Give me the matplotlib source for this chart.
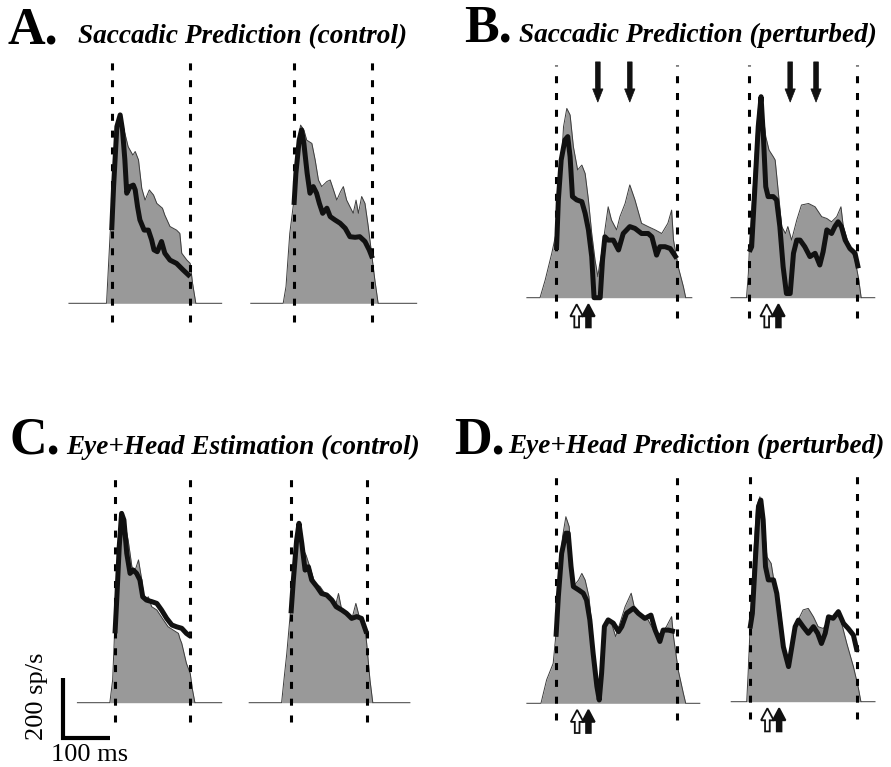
import matplotlib
matplotlib.use('Agg')
import matplotlib.pyplot as plt
from matplotlib.patches import FancyArrow

plt.rcParams.update({'font.family': ['Liberation Serif', 'DejaVu Serif']})

# ---- data: time (ms, 0 = saccade onset) and firing rate (sp/s) ----
# gray = recorded firing rate, black = model fit
a_left_gray_t = [-91, -11, -4, 4, 11, 18, 28, 35, 45, 50, 57, 64, 71, 80, 89, 96, 108, 113, 124, 138, 145, 149, 160, 167, 172, 179, 234]
a_left_gray_r = [0, 0, 211, 456, 589, 628, 567, 522, 494, 506, 478, 383, 344, 378, 361, 333, 317, 294, 256, 244, 233, 167, 144, 133, 67, 0, 0]
a_left_fit_t = [0, 4, 11, 18, 23, 28, 32, 39, 46, 50, 55, 60, 69, 78, 85, 90, 97, 106, 113, 124, 138, 152, 167]
a_left_fit_r = [244, 389, 589, 628, 578, 478, 367, 389, 394, 378, 322, 278, 244, 244, 211, 178, 172, 206, 167, 144, 133, 111, 89]

a_right_gray_t = [-92, -23, -17, -9, -1, 6, 14, 21, 27, 38, 45, 52, 59, 70, 77, 84, 91, 99, 105, 112, 119, 126, 132, 137, 144, 151, 158, 165, 172, 179, 261]
a_right_gray_r = [0, 0, 56, 233, 333, 511, 594, 578, 544, 533, 478, 411, 389, 406, 411, 378, 344, 372, 389, 344, 322, 300, 344, 300, 356, 333, 256, 167, 78, 0, 0]
a_right_fit_t = [0, 4, 11, 16, 21, 28, 34, 41, 48, 54, 61, 70, 77, 87, 98, 109, 119, 130, 140, 151, 160, 167]
a_right_fit_r = [328, 433, 544, 578, 533, 433, 367, 389, 367, 333, 300, 317, 289, 278, 267, 250, 222, 220, 222, 206, 178, 150]

b_left_gray_t = [-62, -34, -23, -9, 0, 9, 16, 23, 30, 37, 46, 55, 62, 69, 76, 83, 89, 92, 97, 103, 111, 118, 129, 136, 147, 157, 168, 182, 196, 211, 225, 238, 246, 250, 260, 271, 276, 289]
b_left_gray_r = [0, 0, 59, 148, 214, 381, 570, 631, 609, 503, 426, 442, 414, 326, 214, 126, 70, 103, 148, 214, 303, 259, 226, 270, 314, 376, 326, 248, 237, 226, 214, 248, 292, 192, 103, 37, 0, 0]
b_left_fit_t = [1, 5, 11, 19, 25, 30, 35, 44, 55, 62, 69, 76, 81, 94, 99, 104, 111, 122, 133, 143, 157, 168, 182, 196, 204, 214, 221, 232, 243, 257]
b_left_fit_r = [159, 326, 459, 526, 537, 470, 337, 326, 320, 281, 226, 137, 0, 0, 126, 203, 192, 192, 159, 214, 237, 231, 214, 214, 203, 142, 170, 170, 164, 131]

b_right_gray_t = [-39, -6, -2, 0, 9, 16, 21, 28, 35, 42, 51, 55, 62, 69, 77, 82, 90, 101, 111, 126, 140, 154, 165, 175, 186, 195, 200, 211, 225, 233, 238, 267]
b_right_gray_r = [0, 0, 81, 159, 381, 570, 659, 626, 537, 492, 470, 459, 348, 237, 214, 237, 192, 259, 309, 314, 303, 270, 264, 253, 270, 303, 237, 181, 126, 59, 0, 0]
b_right_fit_t = [0, 5, 12, 19, 25, 30, 35, 40, 51, 58, 65, 72, 79, 87, 94, 101, 108, 118, 129, 140, 150, 157, 165, 175, 182, 189, 196, 204, 214, 225, 232]
b_right_fit_r = [153, 170, 370, 570, 670, 537, 370, 337, 337, 326, 237, 103, 14, 14, 148, 192, 192, 170, 137, 148, 109, 153, 226, 214, 237, 253, 237, 192, 164, 148, 98]

c_left_gray_t = [-80, -11, -5, -1, 4, 11, 16, 21, 28, 36, 43, 50, 57, 62, 71, 78, 89, 103, 113, 124, 135, 138, 142, 152, 160, 165, 170, 227]
c_left_gray_r = [0, 0, 76, 231, 453, 587, 637, 598, 542, 453, 442, 476, 409, 342, 353, 320, 309, 276, 253, 242, 231, 214, 198, 131, 98, 42, 0, 0]
c_left_fit_t = [0, 4, 9, 14, 19, 25, 32, 39, 46, 53, 59, 67, 78, 89, 99, 110, 121, 131, 142, 152, 160]
c_left_fit_r = [231, 353, 520, 631, 609, 498, 431, 442, 431, 409, 353, 342, 337, 331, 309, 281, 259, 253, 248, 231, 222]

c_right_gray_t = [-89, -20, -15, -9, -4, 4, 12, 18, 23, 32, 40, 51, 62, 72, 83, 94, 101, 108, 118, 129, 138, 147, 157, 161, 168, 174, 253]
c_right_gray_r = [0, 0, 76, 164, 253, 398, 542, 587, 520, 492, 453, 398, 387, 364, 342, 320, 364, 309, 298, 276, 331, 276, 253, 198, 76, 0, 0]
c_right_fit_t = [0, 5, 12, 17, 23, 30, 37, 44, 55, 65, 76, 87, 96, 108, 118, 129, 140, 150, 161]
c_right_fit_r = [298, 409, 542, 598, 531, 442, 453, 409, 387, 364, 359, 342, 320, 309, 298, 281, 287, 281, 231]

d_left_gray_t = [-62, -32, -20, -6, 0, 6, 14, 21, 28, 37, 48, 55, 62, 70, 77, 84, 90, 97, 103, 110, 118, 127, 136, 147, 160, 168, 182, 196, 211, 225, 235, 246, 250, 260, 271, 276, 306]
d_left_gray_r = [0, 0, 78, 133, 233, 411, 556, 622, 589, 389, 411, 433, 411, 356, 244, 100, 11, 100, 256, 278, 267, 222, 267, 322, 367, 311, 289, 278, 233, 233, 256, 289, 222, 111, 33, 0, 0]
d_left_fit_t = [0, 5, 12, 21, 26, 32, 37, 48, 58, 65, 72, 79, 87, 92, 97, 103, 111, 122, 133, 140, 150, 165, 175, 189, 202, 211, 221, 228, 239, 253]
d_left_fit_r = [222, 356, 500, 567, 567, 456, 389, 378, 367, 344, 278, 167, 56, 11, 100, 256, 278, 267, 239, 256, 300, 317, 300, 283, 294, 244, 206, 244, 244, 239]

d_right_gray_t = [-40, -7, -4, 0, 7, 14, 21, 28, 36, 45, 53, 64, 74, 82, 89, 99, 113, 124, 135, 145, 156, 167, 177, 188, 195, 206, 220, 230, 236, 266]
d_right_gray_r = [0, 0, 94, 239, 461, 650, 683, 628, 483, 461, 383, 317, 161, 150, 183, 261, 306, 311, 283, 250, 244, 272, 278, 306, 261, 194, 117, 50, 0, 0]
d_right_fit_t = [0, 5, 11, 18, 23, 28, 33, 39, 50, 57, 64, 71, 82, 89, 96, 103, 113, 124, 135, 144, 152, 160, 167, 177, 188, 199, 209, 220, 228]
d_right_fit_r = [244, 294, 461, 650, 672, 606, 450, 406, 406, 361, 272, 183, 117, 183, 250, 272, 250, 228, 250, 228, 194, 228, 283, 278, 300, 261, 244, 222, 167]

# saccade offset (second dashed line), ms
sacc_end = {'a_l': 167, 'a_r': 167, 'b_l': 258, 'b_r': 230,
            'c_l': 160, 'c_r': 161, 'd_l': 258, 'd_r': 228}
# arrow times (ms): down = perturbation, up = open/filled markers
b_left_down = [89, 157]
b_right_down = [87, 142]
b_left_up = [44, 69]
b_right_up = [37, 62]
d_left_up = [45, 69]
d_right_up = [37, 62]

# ---- layout (pixel geometry of the original figure) ----
W, H = 891, 767
MS_PX, SP_PX = 0.47, 0.3        # px per ms, px per sp/s
T_LIM, R_LIM = (-130, 320), (-130, 850)
GRAY, EDGE, INK = '#999999', '#3c3c3c', '#111111'

fig = plt.figure(figsize=(W / 100, H / 100), dpi=100)


def trace_axes(x0, y0):
    # x0, y0: pixel position of (t=0, rate=0)
    left = (x0 + T_LIM[0] * MS_PX) / W
    bottom = 1 - (y0 - R_LIM[0] * SP_PX) / H
    ax = fig.add_axes([left, bottom, (T_LIM[1] - T_LIM[0]) * MS_PX / W,
                       (R_LIM[1] - R_LIM[0]) * SP_PX / H])
    ax.set_xlim(T_LIM); ax.set_ylim(R_LIM); ax.axis('off')
    return ax


def draw_trace(ax, gt, gr, ft, fr, t_end, dash_lo, dash_hi):
    ax.fill_between(gt, gr, 0, color=GRAY, lw=0, zorder=1)
    ax.plot(gt, gr, color=EDGE, lw=0.7, zorder=1.5)
    ax.vlines([0, t_end], dash_lo, dash_hi, colors='k', lw=2.2,
              linestyles=[(0, (2.3, 3.2))], zorder=2)
    ax.plot(ft, fr, color=INK, lw=3.6, solid_capstyle='butt', solid_joinstyle='round', zorder=3)


def down_arrows(ax, ts):
    for t in ts:
        ax.add_patch(FancyArrow(t, 786, 0, -134, width=10, head_width=22, head_length=44,
                                length_includes_head=True, fc=INK, ec=INK, lw=0.5, zorder=4))


def up_arrows(ax, ts):
    for t, fc in zip(ts, ['white', INK]):
        ax.add_patch(FancyArrow(t, -99, 0, 77, width=10, head_width=27, head_length=40,
                                length_includes_head=True, fc=fc, ec=INK, lw=1.3, zorder=4))


ax = trace_axes(111.7, 303.3)
draw_trace(ax, a_left_gray_t, a_left_gray_r, a_left_fit_t, a_left_fit_r, sacc_end['a_l'], -61, 811)
ax = trace_axes(294, 303.3)
draw_trace(ax, a_right_gray_t, a_right_gray_r, a_right_fit_t, a_right_fit_r, sacc_end['a_r'], -61, 811)

ax = trace_axes(556, 297.7)
draw_trace(ax, b_left_gray_t, b_left_gray_r, b_left_fit_t, b_left_fit_r, sacc_end['b_l'], -68, 776)
down_arrows(ax, b_left_down); up_arrows(ax, b_left_up)
ax = trace_axes(749.3, 297.7)
draw_trace(ax, b_right_gray_t, b_right_gray_r, b_right_fit_t, b_right_fit_r, sacc_end['b_r'], -68, 776)
down_arrows(ax, b_right_down); up_arrows(ax, b_right_up)

ax = trace_axes(115, 702.7)
draw_trace(ax, c_left_gray_t, c_left_gray_r, c_left_fit_t, c_left_fit_r, sacc_end['c_l'], -64, 766)
# scale bar: 100 ms x 200 sp/s
sb_t, sb_r = -111, -119
ax.plot([sb_t, sb_t, sb_t + 100], [sb_r + 200, sb_r, sb_r], color='k', lw=3,
        solid_joinstyle='miter', solid_capstyle='butt', clip_on=False)
ax.annotate('200 sp/s', (sb_t, sb_r + 141), xytext=(-11, 0), textcoords='offset points',
            rotation=90, ha='right', va='center', fontsize=19)
ax.annotate('100 ms', (sb_t + 50, sb_r), xytext=(2, -4), textcoords='offset points',
            ha='center', va='top', fontsize=19)
ax = trace_axes(291, 702.7)
draw_trace(ax, c_right_gray_t, c_right_gray_r, c_right_fit_t, c_right_fit_r, sacc_end['c_r'], -64, 766)

ax = trace_axes(556, 703.3)
draw_trace(ax, d_left_gray_t, d_left_gray_r, d_left_fit_t, d_left_fit_r, sacc_end['d_l'], -56, 778)
up_arrows(ax, d_left_up)
ax = trace_axes(750, 701.7)
draw_trace(ax, d_right_gray_t, d_right_gray_r, d_right_fit_t, d_right_fit_r, sacc_end['d_r'], -56, 778)
up_arrows(ax, d_right_up)

# ---- panel letters and titles ----
panels = [('A.', 'Saccadic Prediction (control)', 7, 78, 43),
          ('B.', 'Saccadic Prediction (perturbed)', 464, 519, 42),
          ('C.', 'Eye+Head Estimation (control)', 9, 66, 454),
          ('D.', 'Eye+Head Prediction (perturbed)', 454, 508, 453)]
for letter, title, xl, xt, yb in panels:
    fig.text(xl / W, 1 - yb / H, letter, fontsize=37.5, fontweight='bold', va='baseline')
    fig.text(xt / W, 1 - yb / H, title, fontsize=19.6, fontweight='bold', style='italic', va='baseline')

fig.savefig('out.png', dpi=100, facecolor='white')
